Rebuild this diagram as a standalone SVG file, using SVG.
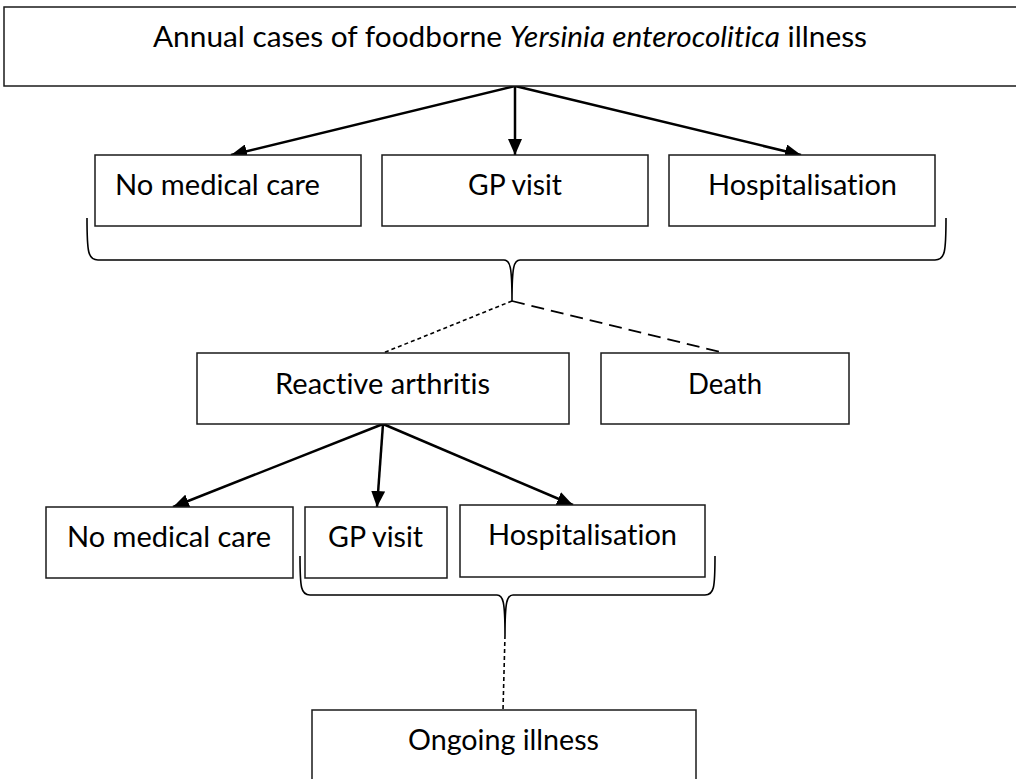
<svg xmlns="http://www.w3.org/2000/svg" width="1016" height="779" viewBox="0 0 1016 779">
  <style>
    .box { fill: #ffffff; stroke: #1a1a1a; stroke-width: 1.5; }
    .lbl { font-family: Lato, "Open Sans", "Liberation Sans", sans-serif; font-size: 28px; fill: #000000; font-variant-ligatures: none; font-feature-settings: "liga" 0, "clig" 0, "dlig" 0; }
    .arrow { fill: none; stroke: #000000; stroke-width: 2.5; marker-end: url(#head); }
    .brace { fill: none; stroke: #000000; stroke-width: 1.6; }
    .dot { fill: none; stroke: #000000; stroke-width: 1.6; stroke-dasharray: 4 3; }
    .dash { fill: none; stroke: #000000; stroke-width: 1.8; stroke-dasharray: 13 7; }
  </style>
  <defs>
    <marker id="head" viewBox="0 0 16 14" refX="16" refY="7" markerWidth="16" markerHeight="14" markerUnits="userSpaceOnUse" orient="auto">
      <path d="M0,0 L16,7 L0,14 Z" fill="#000000"/>
    </marker>
  </defs>
  <rect width="1016" height="779" fill="#ffffff"/>

  <!-- connectors -->
  <g id="connectors">
    <line class="arrow" x1="515" y1="86" x2="231" y2="155"/>
    <line class="arrow" x1="515" y1="86" x2="515" y2="155"/>
    <line class="arrow" x1="515" y1="86" x2="801" y2="155"/>
    <path class="brace" d="M87,218 C87,252 88,260 98,260 L504,260 C510,260 512,266 512,301 C512,266 514,260 520,260 L935,260 C945,260 946,252 946,218"/>
    <line class="dot" x1="512" y1="301" x2="383" y2="353"/>
    <line class="dash" x1="512" y1="301" x2="724" y2="353"/>
    <line class="arrow" x1="383" y1="424" x2="173" y2="507"/>
    <line class="arrow" x1="383" y1="424" x2="377" y2="507"/>
    <line class="arrow" x1="383" y1="424" x2="573" y2="505"/>
    <path class="brace" d="M300,556 C300,588 301,595 310,595 L497,595 C503,595 505,601 505,635 C505,601 507,595 513,595 L705,595 C714,595 715,588 715,556"/>
    <line class="dot" x1="505" y1="635" x2="503" y2="710"/>
  </g>

  <!-- nodes -->
  <g id="annual-cases">
    <rect class="box" x="4" y="7" width="1030" height="79"/>
    <text class="lbl" x="510" y="47" text-anchor="middle" textLength="714" lengthAdjust="spacingAndGlyphs">Annual cases of foodborne <tspan font-style="italic">Yersinia enterocolitica</tspan> illness</text>
  </g>
  <g id="no-care-1">
    <rect class="box" x="95" y="155" width="266" height="71"/>
    <text class="lbl" x="217.5" y="195" text-anchor="middle" textLength="205" lengthAdjust="spacingAndGlyphs">No medical care</text>
  </g>
  <g id="gp-1">
    <rect class="box" x="382" y="155" width="266" height="71"/>
    <text class="lbl" x="515" y="195" text-anchor="middle" textLength="94" lengthAdjust="spacingAndGlyphs">GP visit</text>
  </g>
  <g id="hosp-1">
    <rect class="box" x="669" y="155" width="266" height="71"/>
    <text class="lbl" x="802.5" y="195" text-anchor="middle" textLength="189" lengthAdjust="spacingAndGlyphs">Hospitalisation</text>
  </g>
  <g id="reactive-arthritis">
    <rect class="box" x="197" y="353" width="372" height="71"/>
    <text class="lbl" x="382.5" y="394" text-anchor="middle" textLength="215" lengthAdjust="spacingAndGlyphs">Reactive arthritis</text>
  </g>
  <g id="death">
    <rect class="box" x="601" y="353" width="248" height="71"/>
    <text class="lbl" x="725" y="394" text-anchor="middle" textLength="74" lengthAdjust="spacingAndGlyphs">Death</text>
  </g>
  <g id="no-care-2">
    <rect class="box" x="46" y="507" width="247" height="71"/>
    <text class="lbl" x="169" y="547" text-anchor="middle" textLength="204" lengthAdjust="spacingAndGlyphs">No medical care</text>
  </g>
  <g id="gp-2">
    <rect class="box" x="305" y="507" width="142" height="71"/>
    <text class="lbl" x="375.5" y="547" text-anchor="middle" textLength="95" lengthAdjust="spacingAndGlyphs">GP visit</text>
  </g>
  <g id="hosp-2">
    <rect class="box" x="460" y="505" width="245" height="72"/>
    <text class="lbl" x="582.5" y="545" text-anchor="middle" textLength="189" lengthAdjust="spacingAndGlyphs">Hospitalisation</text>
  </g>
  <g id="ongoing-illness">
    <rect class="box" x="312" y="710" width="384" height="80"/>
    <text class="lbl" x="503.5" y="750" text-anchor="middle" textLength="191" lengthAdjust="spacingAndGlyphs">Ongoing illness</text>
  </g>
</svg>
